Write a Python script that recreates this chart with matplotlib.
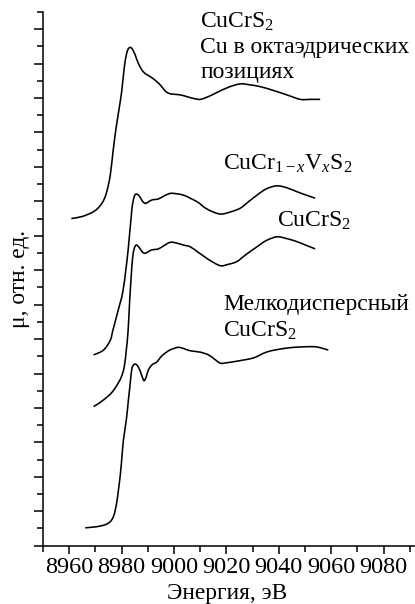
import matplotlib
matplotlib.use("Agg")
import matplotlib.pyplot as plt
from matplotlib.path import Path
from matplotlib.patches import PathPatch
from matplotlib.ticker import MultipleLocator, NullFormatter

plt.rcParams["font.family"] = ["Liberation Serif", "DejaVu Serif"]
plt.rcParams["mathtext.fontset"] = "custom"
plt.rcParams["mathtext.rm"] = "Liberation Serif"
plt.rcParams["mathtext.it"] = "Liberation Serif:italic"

# Cu K-edge XANES spectra, energy in eV, absorption in relative units (stacked)
energy_oct = [8960.8, 8965.0, 8969.3, 8971.8, 8973.4, 8974.5, 8975.7, 8976.8, 8977.9, 8979.1,
              8980.1, 8981.0, 8981.8, 8982.5, 8983.3, 8984.1, 8985.2, 8986.3, 8987.8, 8989.0,
              8990.3, 8991.9, 8993.5, 8995.1, 8996.7, 8998.2, 8999.8, 9002.4, 9004.9, 9007.3,
              9010.0, 9013.1, 9016.4, 9020.7, 9025.3, 9029.1, 9032.9, 9037.9, 9043.1, 9048.2,
              9052.0, 9055.8]
mu_oct = [9.50, 9.56, 9.70, 9.87, 10.07, 10.33, 10.77, 11.49, 12.13, 12.71,
          13.23, 13.87, 14.25, 14.42, 14.47, 14.42, 14.25, 14.02, 13.81, 13.71,
          13.65, 13.57, 13.47, 13.35, 13.20, 13.13, 13.11, 13.09, 13.04, 12.99,
          12.96, 13.04, 13.16, 13.31, 13.41, 13.38, 13.33, 13.22, 13.09, 12.96,
          12.96, 12.96]

energy_v = [8969.3, 8973.1, 8975.7, 8976.7, 8978.7, 8980.6, 8982.5, 8983.9, 8984.8, 8985.6,
            8986.7, 8987.9, 8989.0, 8990.2, 8991.6, 8994.1, 8996.3, 8998.6, 9000.9, 9003.6,
            9006.2, 9009.4, 9011.3, 9013.8, 9017.7, 9021.5, 9025.3, 9028.3, 9031.7, 9035.2,
            9039.3, 9043.2, 9046.9, 9050.5, 9053.9]
mu_v = [5.54, 5.68, 5.97, 6.26, 6.84, 7.43, 8.59, 9.75, 10.13, 10.21,
        10.16, 10.01, 9.94, 9.98, 10.04, 10.07, 10.16, 10.23, 10.22, 10.18,
        10.09, 9.96, 9.84, 9.73, 9.63, 9.69, 9.80, 9.98, 10.18, 10.36,
        10.45, 10.39, 10.28, 10.18, 10.09]

energy_bulk = [8969.3, 8971.8, 8974.5, 8976.4, 8978.3, 8979.9, 8981.0, 8981.8, 8982.5, 8983.1,
               8983.7, 8984.2, 8984.8, 8985.6, 8986.7, 8987.9, 8989.0, 8990.2, 8991.6, 8994.1,
               8996.3, 8998.6, 9000.9, 9003.6, 9006.2, 9009.4, 9011.3, 9013.8, 9017.7, 9020.7,
               9024.0, 9027.6, 9031.7, 9035.2, 9039.3, 9042.9, 9046.9, 9050.5, 9053.9]
mu_bulk = [4.04, 4.16, 4.32, 4.46, 4.67, 4.90, 5.19, 5.68, 6.26, 7.14,
           7.86, 8.35, 8.62, 8.73, 8.66, 8.53, 8.49, 8.54, 8.59, 8.62,
           8.72, 8.81, 8.79, 8.73, 8.68, 8.51, 8.41, 8.28, 8.13, 8.17,
           8.25, 8.46, 8.68, 8.86, 8.97, 8.92, 8.83, 8.72, 8.62]

energy_fine = [8966.1, 8969.2, 8971.8, 8974.1, 8975.7, 8976.8, 8977.6, 8978.3, 8978.8, 8979.5,
               8980.1, 8980.7, 8981.8, 8982.6, 8983.3, 8983.9, 8984.6, 8985.4, 8986.3, 8987.1,
               8987.9, 8988.6, 8989.4, 8990.2, 8991.6, 8993.5, 8995.1, 8997.3, 8999.3, 9001.7,
               9003.9, 9006.2, 9010.0, 9013.2, 9015.4, 9017.7, 9019.9, 9022.6, 9026.4, 9030.3,
               9032.9, 9035.6, 9039.8, 9044.4, 9048.2, 9053.2, 9055.8, 9058.9]
mu_fine = [0.52, 0.54, 0.57, 0.62, 0.70, 0.83, 1.04, 1.33, 1.62, 2.05,
           2.55, 3.07, 3.65, 4.23, 4.72, 5.13, 5.25, 5.27, 5.20, 5.07,
           4.90, 4.79, 4.90, 5.10, 5.25, 5.34, 5.49, 5.63, 5.71, 5.76,
           5.72, 5.66, 5.62, 5.54, 5.42, 5.30, 5.31, 5.34, 5.39, 5.45,
           5.54, 5.63, 5.70, 5.75, 5.77, 5.78, 5.75, 5.68]

x_ticks = [8960, 8980, 9000, 9020, 9040, 9060, 9080]


def smooth_curve(xs, ys):
    """Cubic Bezier path passing through every point (Catmull-Rom tangents)."""
    pts = list(zip(xs, ys))
    n = len(pts)
    verts = [pts[0]]
    codes = [Path.MOVETO]
    for i in range(n - 1):
        p0 = pts[max(i - 1, 0)]
        p1 = pts[i]
        p2 = pts[i + 1]
        p3 = pts[min(i + 2, n - 1)]
        c1 = (p1[0] + (p2[0] - p0[0]) / 6, p1[1] + (p2[1] - p0[1]) / 6)
        c2 = (p2[0] - (p3[0] - p1[0]) / 6, p2[1] - (p3[1] - p1[1]) / 6)
        verts += [c1, c2, p2]
        codes += [Path.CURVE4] * 3
    return Path(verts, codes)


fig = plt.figure(figsize=(4.15, 6.04), dpi=100)
ax = fig.add_axes([43 / 415, 58.3 / 604, 1 - 43 / 415, (545.7 - 11.9) / 604])

lw = 1.15
for e, m in [(energy_oct, mu_oct), (energy_v, mu_v), (energy_bulk, mu_bulk), (energy_fine, mu_fine)]:
    ax.add_patch(PathPatch(smooth_curve(e, m), fill=False, edgecolor="black", lw=lw,
                           joinstyle="round", capstyle="butt"))

ax.set_xlim(8950, 9092)
ax.set_ylim(0, 15.5)

for s in ["top", "right"]:
    ax.spines[s].set_visible(False)
for s in ["left", "bottom"]:
    ax.spines[s].set_linewidth(1.1)

ax.set_xticks(x_ticks)
ax.xaxis.set_minor_locator(MultipleLocator(10))
ax.yaxis.set_major_locator(MultipleLocator(1))
ax.yaxis.set_minor_locator(MultipleLocator(0.5))
ax.yaxis.set_major_formatter(NullFormatter())
ax.tick_params(axis="x", which="major", length=5.5, width=1.1, labelsize=17.5, pad=2.5)
ax.tick_params(axis="x", which="minor", length=4.3, width=1.1)
ax.tick_params(axis="y", which="major", length=6.5, width=1.1)
ax.tick_params(axis="y", which="minor", length=4.3, width=1.1)

ax.set_xlabel("Энергия, эВ", fontsize=16.8, labelpad=0)
ax.xaxis.set_label_coords((227 - 43) / (415 - 43), -(599 - 545.7) / (545.7 - 11.9))
ax.xaxis.label.set_va("baseline")

fig.text(20 / 415, 1 - 278.8 / 604, "μ, отн. ед.", rotation=90, fontsize=16.8,
         ha="center", va="center")

fs = 17
ax.text(9010.0, 15.03, "CuCrS$_2$", fontsize=fs, va="baseline")
ax.text(9010.0, 14.31, "Cu в октаэдрических", fontsize=fs, va="baseline")
ax.text(9010.0, 13.58, "позициях", fontsize=fs, va="baseline")
ax.text(9018.8, 10.91, "CuCr$_{1-x}$V$_x$S$_2$", fontsize=fs, va="baseline")
ax.text(9039.4, 9.26, "CuCrS$_2$", fontsize=fs, va="baseline")
ax.text(9018.8, 6.84, "Мелкодисперсный", fontsize=fs, va="baseline")
ax.text(9018.8, 6.07, "CuCrS$_2$", fontsize=fs, va="baseline")

fig.savefig("out.png", dpi=100)
